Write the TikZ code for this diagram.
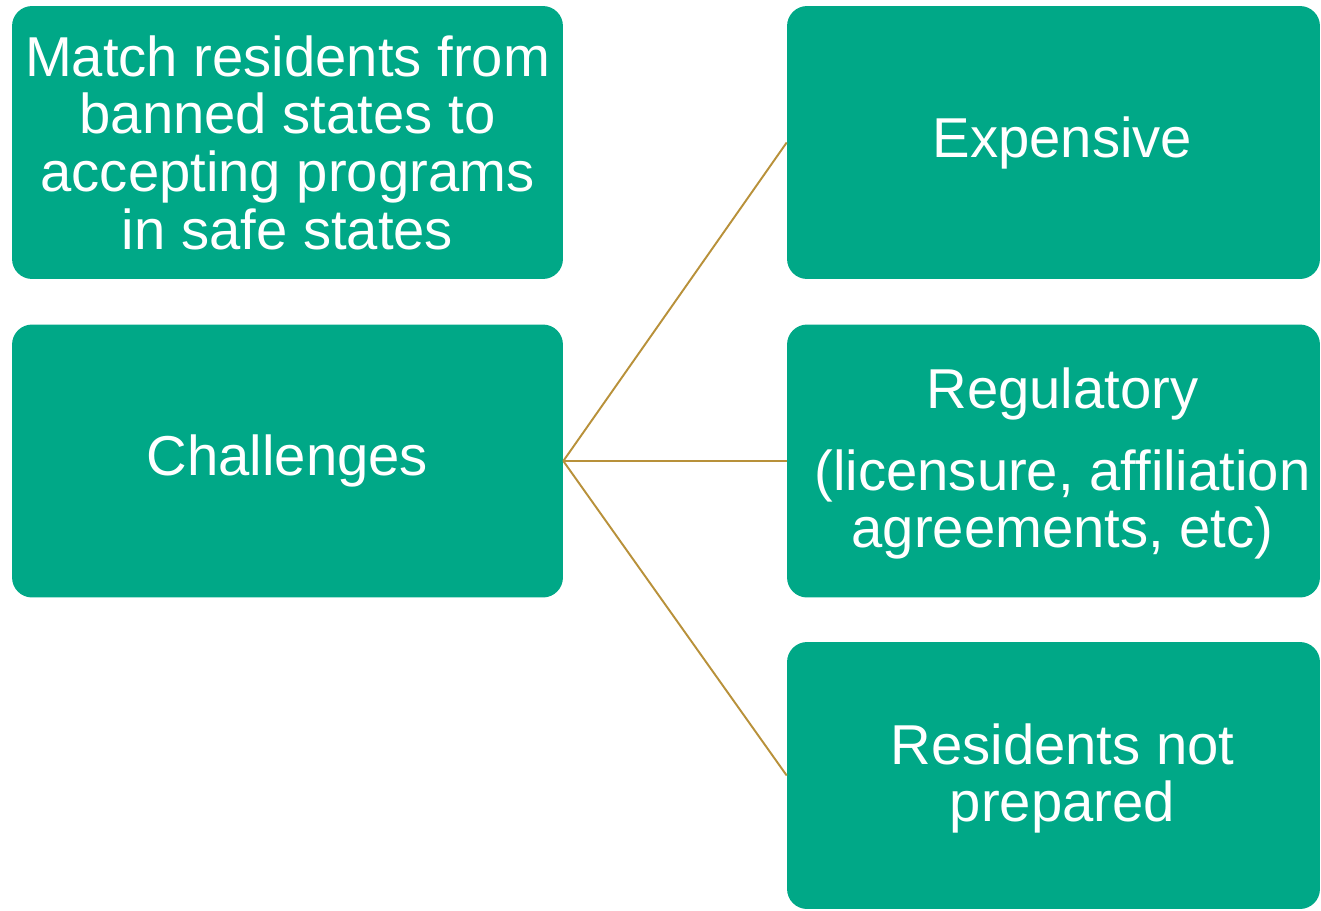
\documentclass[tikz,border=0pt]{standalone}
\usepackage{fontspec}
\setmainfont{Liberation Sans}
\usetikzlibrary{positioning}

\definecolor{boxgreen}{HTML}{00A887}
\definecolor{linkgold}{HTML}{B8913A}

\begin{document}
\begin{tikzpicture}[
x=0.02cm, y=-0.02cm,
font=\fontsize{32}{32.8}\selectfont,
leftbox/.style={
    draw=none, fill=boxgreen, text=white, rounded corners=0.4cm,
    minimum width=11.02cm, minimum height=5.46cm, align=center, inner sep=2pt},
rightbox/.style={leftbox, minimum width=10.66cm},
boxtext/.style={text=white, align=center, inner sep=0pt},
link/.style={draw=linkgold, line width=1.1pt},
]
\useasboundingbox (0,0) rectangle (1321,910);

\node[leftbox] (goal) at (287.5,142.5) {Match residents from\\banned states to\\accepting programs\\in safe states};
\node[leftbox] (challenges) at (287.5,461) {Challenges};

\node[rightbox] (expensive) at (1053.5,142.5) {};
\node[rightbox] (regulatory) at (1053.5,461) {};
\node[rightbox, minimum height=5.34cm] (prepared) at (1053.5,775.5) {};

\node[boxtext] (expensive-text) at ([xshift=0.18cm]expensive.center) {Expensive};
\node[boxtext] (regulatory-text) at ([xshift=0.18cm, yshift=-0.05cm]regulatory.center) {Regulatory\\[14pt](licensure, affiliation\\agreements, etc)};
\node[boxtext] (prepared-text) at ([xshift=0.18cm, yshift=-0.06cm]prepared.center) {Residents not\\prepared};

\draw[link] (challenges.east) -- (expensive.west);
\draw[link] (challenges.east) -- (regulatory.west);
\draw[link] (challenges.east) -- (prepared.west);

\end{tikzpicture}
\end{document}
